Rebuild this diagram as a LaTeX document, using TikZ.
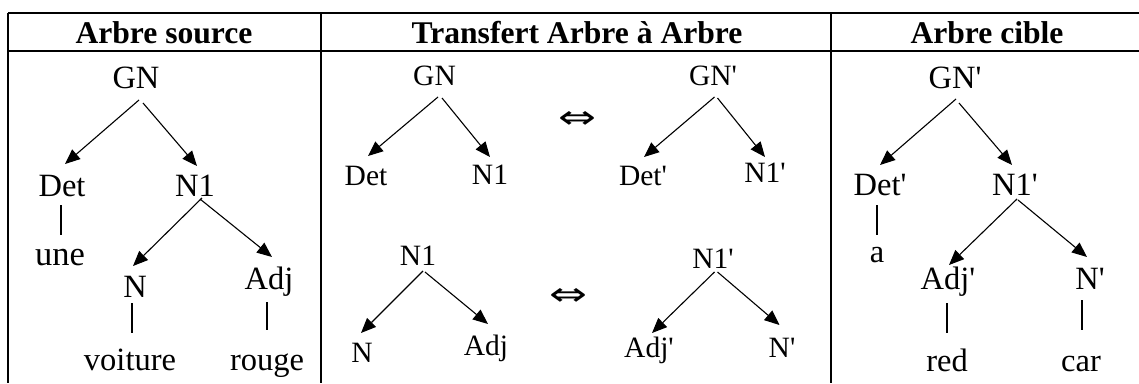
\documentclass[tikz,border=0pt]{standalone}
\usepackage{fontspec}
\setmainfont{Liberation Serif}[Ligatures=TeXOff]
\newfontfamily\symfont{DejaVu Sans}
\usetikzlibrary{arrows.meta}

\begin{document}
\begin{tikzpicture}[x=1pt,y=-1pt,
  rule/.style={line width=2.3pt},
  head/.style={font=\bfseries\fontsize{31.6}{36}\selectfont, anchor=base, inner sep=0pt},
  side/.style={font=\fontsize{32.5}{36}\selectfont, anchor=base, inner sep=0pt},
  mid/.style={font=\fontsize{29.5}{33}\selectfont, anchor=base, inner sep=0pt},
  arr/.style={line width=1.1pt, -{Triangle[length=15pt,width=12.5pt]}},
  stem/.style={line width=1.1pt},
  equiv/.style={inner sep=0pt, anchor=center}]
\useasboundingbox (0,0) rectangle (1139,383);

% table rules
\coordinate (tl) at (8,13);
\coordinate (tr) at (1139,13);
\coordinate (hl) at (8,51);
\coordinate (hr) at (1139,51);
\coordinate (c0t) at (8,13);    \coordinate (c0b) at (8,383);
\coordinate (c1t) at (321,13);  \coordinate (c1b) at (321,383);
\coordinate (c2t) at (831,13);  \coordinate (c2b) at (831,383);
\draw[rule] (tl) -- (tr);
\draw[rule] (hl) -- (hr);
\draw[rule] (c0t) -- (c0b);
\draw[rule] (c1t) -- (c1b);
\draw[rule] (c2t) -- (c2b);

% column headings
\node[head] (h1) at (164,43) {Arbre source};
\node[head] (h2) at (577,43) {Transfert Arbre à Arbre};
\node[head] (h3) at (987,43) {Arbre cible};

% source tree
\node[side] (sGN)  at (136,88)  {GN};
\node[side] (sDet) at (62,196)  {Det};
\node[side] (sN1)  at (195,196) {N1};
\node[side, font=\fontsize{34.5}{38}\selectfont] (sune) at (60,265) {une};
\node[side] (sN)   at (135,297) {N};
\node[side] (sAdj) at (269,289) {Adj};
\node[side] (svoit)  at (130,370) {voiture};
\node[side] (srouge) at (267,370) {rouge};

\draw[arr]  ([shift={(3,12)}]sGN.base) -- ([shift={(3,-32)}]sDet.base);
\draw[arr]  ([shift={(7,15)}]sGN.base) -- ([shift={(2,-30)}]sN1.base);
\draw[stem] ([shift={(-1,9)}]sDet.base) -- ([shift={(1,-30)}]sune.base);
\draw[arr]  ([shift={(7,2)}]sN1.base) -- ([shift={(-2,-31)}]sN.base);
\draw[arr]  ([shift={(5,3)}]sN1.base) -- ([shift={(3,-32)}]sAdj.base);
\draw[stem] ([shift={(-3,6)}]sN.base) -- ([shift={(2,-37)}]svoit.base);
\draw[stem] ([shift={(-2,13)}]sAdj.base) -- ([shift={(0,-40)}]srouge.base);

% transfer rules
\node[mid] (mGN)   at (434.5,85) {GN};
\node[mid] (mDet)  at (366,185)  {Det};
\node[mid] (mN1)   at (490,184)  {N1};
\node[mid] (mGNp)  at (713,85)   {GN'};
\node[mid] (mDetp) at (643,185)  {Det'};
\node[mid] (mN1p)  at (765,182)  {N1'};
\node[equiv] (eq1) at (577,120) {\resizebox{38pt}{17pt}{\symfont ⇔}};

\draw[arr] ([shift={(3.5,12)}]mGN.base) -- ([shift={(2,-29)}]mDet.base);
\draw[arr] ([shift={(7.5,13)}]mGN.base) -- ([shift={(0,-27)}]mN1.base);
\draw[arr] ([shift={(1.5,12)}]mGNp.base) -- ([shift={(1,-28)}]mDetp.base);
\draw[arr] ([shift={(4.5,13)}]mGNp.base) -- ([shift={(0,-25)}]mN1p.base);

\node[mid] (mN1b)  at (418,265) {N1};
\node[mid] (mN)    at (362,362) {N};
\node[mid] (mAdj)  at (486,355) {Adj};
\node[mid] (mN1pb) at (713,268) {N1'};
\node[mid] (mAdjp) at (649,357) {Adj'};
\node[mid] (mNp)   at (782,357) {N'};
\node[equiv] (eq2) at (568,297) {\resizebox{38pt}{17pt}{\symfont ⇔}};

\draw[arr] ([shift={(5,6)}]mN1b.base) -- ([shift={(-1,-29)}]mN.base);
\draw[arr] ([shift={(7,7)}]mN1b.base) -- ([shift={(2,-31)}]mAdj.base);
\draw[arr] ([shift={(1.5,4)}]mN1pb.base) -- ([shift={(3,-24)}]mAdjp.base);
\draw[arr] ([shift={(4.5,4)}]mN1pb.base) -- ([shift={(-2.5,-32)}]mNp.base);

% target tree
\node[side] (tGN)  at (955,88)   {GN'};
\node[side] (tDet) at (880,195)  {Det'};
\node[side] (tN1)  at (1015,195) {N1'};
\node[side] (ta)   at (877,262)  {a};
\node[side] (tAdj) at (948,289)  {Adj'};
\node[side] (tN)   at (1090,289) {N'};
\node[side] (tred) at (947,371)  {red};
\node[side] (tcar) at (1081,371) {car};

\draw[arr]  ([shift={(1,11)}]tGN.base) -- ([shift={(0,-30)}]tDet.base);
\draw[arr]  ([shift={(4,15)}]tGN.base) -- ([shift={(-3,-30)}]tN1.base);
\draw[stem] ([shift={(-3,10)}]tDet.base) -- ([shift={(0,-27)}]ta.base);
\draw[arr]  ([shift={(2,4)}]tN1.base) -- ([shift={(1,-24)}]tAdj.base);
\draw[arr]  ([shift={(3,5)}]tN1.base) -- ([shift={(-3,-32)}]tN.base);
\draw[stem] ([shift={(-1,14)}]tAdj.base) -- ([shift={(0,-38)}]tred.base);
\draw[stem] ([shift={(-8,11)}]tN.base) -- ([shift={(1,-41)}]tcar.base);
\end{tikzpicture}
\end{document}
